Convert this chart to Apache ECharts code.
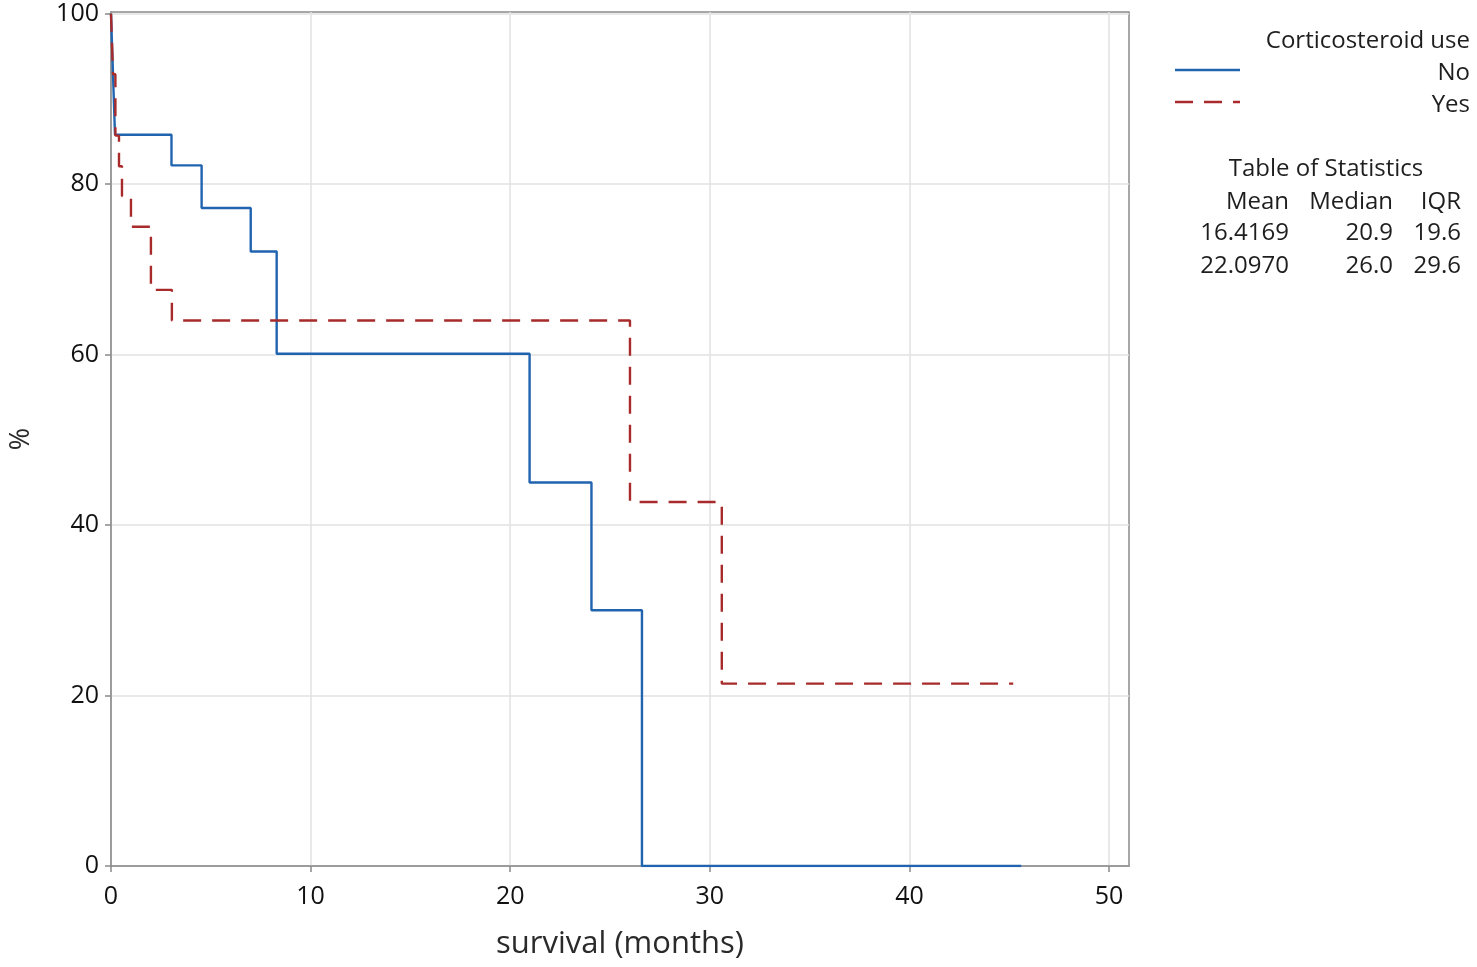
<!DOCTYPE html>
<html>
<head>
<meta charset="utf-8">
<script src="https://cdn.jsdelivr.net/npm/echarts@6/dist/echarts.min.js"></script>
<style>
html,body{margin:0;padding:0;background:#fff;}
#chart{width:1477px;height:967px;}
</style>
</head>
<body>
<div id="chart"></div>
<script>
// Kaplan-Meier survival (%) vs survival (months)
const noTimes = [0, 0.05, 0.1, 0.2, 3.03, 4.54, 7.0, 8.3, 20.97, 24.07, 26.6, 45.6];
const noSurv  = [100, 96.4, 92.9, 85.8, 82.2, 77.2, 72.1, 60.1, 45.0, 30.0, 0, 0];
const yesTimes = [0, 0.1, 0.22, 0.4, 0.55, 1.0, 2.0, 3.05, 26.0, 30.6, 45.2];
const yesSurv  = [100, 92.9, 85.7, 82.1, 78.6, 75.0, 67.6, 64.0, 42.7, 21.4, 21.4];
const xTicks = [0, 10, 20, 30, 40, 50];
const yTicks = [0, 20, 40, 60, 80, 100];
const legendTitle = 'Corticosteroid use';
const groupNames = ['No', 'Yes'];
const statHeaders = ['Mean', 'Median', 'IQR'];
const statNo = ['16.4169', '20.9', '19.6'];
const statYes = ['22.0970', '26.0', '29.6'];

const FONT = '"Open Sans", "Noto Sans", sans-serif';
const blue = '#2064b0';
const red = '#a82a2a';

const chart = echarts.init(document.getElementById('chart'));
const txt = (text, x, y, align, size) => ({
  type: 'text', x: x, y: y,
  style: { text: text, fill: '#1e1e1e', font: size + 'px ' + FONT, textAlign: align, textVerticalAlign: 'middle' }
});
chart.setOption({
  animation: false,
  backgroundColor: '#fff',
  grid: { left: 111, top: 12, right: 348, bottom: 101, show: true, borderColor: '#8a8a8a', borderWidth: 1.5,
          containLabel: false, outerBoundsMode: 'none' },
  xAxis: {
    type: 'value', min: 0, max: 51,
    name: 'survival (months)', nameLocation: 'middle', nameGap: 63,
    nameTextStyle: { fontSize: 31, color: '#2a2a2a', fontFamily: FONT },
    axisLine: { show: true, onZero: false, lineStyle: { color: '#8a8a8a', width: 1.5 } },
    axisTick: { show: true, length: 6, customValues: xTicks, lineStyle: { color: '#8a8a8a', width: 1.5 } },
    axisLabel: { customValues: xTicks, fontSize: 25, color: '#111', fontFamily: FONT, margin: 18 },
    splitLine: { show: true, lineStyle: { color: '#e2e2e2', width: 1.5 } }
  },
  yAxis: {
    type: 'value', min: 0, max: 100.2,
    name: '%', nameLocation: 'middle', nameGap: 76,
    nameTextStyle: { fontSize: 27, color: '#2a2a2a', fontFamily: FONT },
    axisLine: { show: true, onZero: false, lineStyle: { color: '#8a8a8a', width: 1.5 } },
    axisTick: { show: true, length: 6, customValues: yTicks, lineStyle: { color: '#8a8a8a', width: 1.5 } },
    axisLabel: { customValues: yTicks, fontSize: 25, color: '#111', fontFamily: FONT, margin: 12 },
    splitLine: { show: true, lineStyle: { color: '#e2e2e2', width: 1.5 } }
  },
  series: [
    { name: groupNames[0], type: 'line', step: 'end', symbol: 'none', z: 3,
      lineStyle: { color: blue, width: 2.4 },
      data: noTimes.map((t, i) => [t, noSurv[i]]) },
    { name: groupNames[1], type: 'line', step: 'end', symbol: 'none', z: 4,
      lineStyle: { color: red, width: 2.4, type: [18, 11] },
      data: yesTimes.map((t, i) => [t, yesSurv[i]]) }
  ],
  graphic: [
    txt(legendTitle, 1470, 41, 'right', 24),
    { type: 'line', shape: { x1: 1175, y1: 70, x2: 1240, y2: 70 }, style: { stroke: blue, lineWidth: 2.4 } },
    { type: 'line', shape: { x1: 1175, y1: 102, x2: 1240, y2: 102 }, style: { stroke: red, lineWidth: 2.4, lineDash: [18, 11] } },
    txt(groupNames[0], 1470, 73, 'right', 24),
    txt(groupNames[1], 1470, 105, 'right', 24),
    txt('Table of Statistics', 1326, 169, 'center', 24),
    txt(statHeaders[0], 1289, 202, 'right', 24),
    txt(statHeaders[1], 1393, 202, 'right', 24),
    txt(statHeaders[2], 1461, 202, 'right', 24),
    txt(statNo[0], 1289, 233, 'right', 24),
    txt(statNo[1], 1393, 233, 'right', 24),
    txt(statNo[2], 1461, 233, 'right', 24),
    txt(statYes[0], 1289, 266, 'right', 24),
    txt(statYes[1], 1393, 266, 'right', 24),
    txt(statYes[2], 1461, 266, 'right', 24)
  ]
});
</script>
</body>
</html>
